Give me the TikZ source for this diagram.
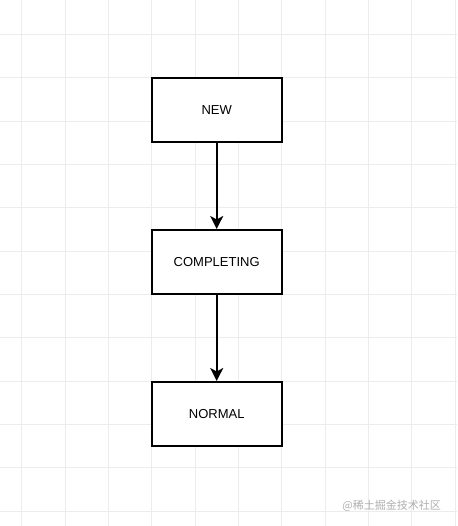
\documentclass[tikz,border=0pt]{standalone}
\usepackage{fontspec}
\setmainfont{Liberation Sans}
\newfontfamily\cjk{Noto Sans CJK SC}
\usetikzlibrary{arrows.meta, positioning}
\definecolor{mygrid}{RGB}{236,236,236}
\definecolor{mymark}{RGB}{175,175,175}
\tikzset{
  statebox/.style={rectangle, draw=black, fill=white,
    minimum width=130pt, minimum height=64pt,
    font=\fontsize{13}{15}\selectfont, line width=2pt},
  flowarrow/.style={-{Stealth[length=13pt, width=13pt, inset=3.5pt]}, line width=2pt, color=black},
  gridline/.style={draw=mygrid, line width=0.8pt},
  watermark/.style={font=\cjk\fontsize{11}{13}\selectfont, text=mymark, inner sep=0pt}
}

\begin{document}
\begin{tikzpicture}[x=1pt, y=-1pt, node distance=86pt]
  \useasboundingbox[fill=white] (0,0) rectangle (457,526);

  % background grid
  \foreach \gx in {0,...,10}
    \draw[gridline] ({21.7+43.33*\gx},0) -- ++(0,526);
  \foreach \gy in {0,...,11}
    \draw[gridline] (0,{34.3+43.33*\gy}) -- ++(457,0);

  % states
  \node[statebox] (new) at (216.7,110) {NEW};
  \node[statebox, below=of new] (completing) {COMPLETING};
  \node[statebox, below=of completing] (normal) {NORMAL};

  \draw[flowarrow] (new) -- (completing);
  \draw[flowarrow] (completing) -- (normal);

  \node[watermark, anchor=east] (mark) at (441,506) {@稀土掘金技术社区};
\end{tikzpicture}
\end{document}
